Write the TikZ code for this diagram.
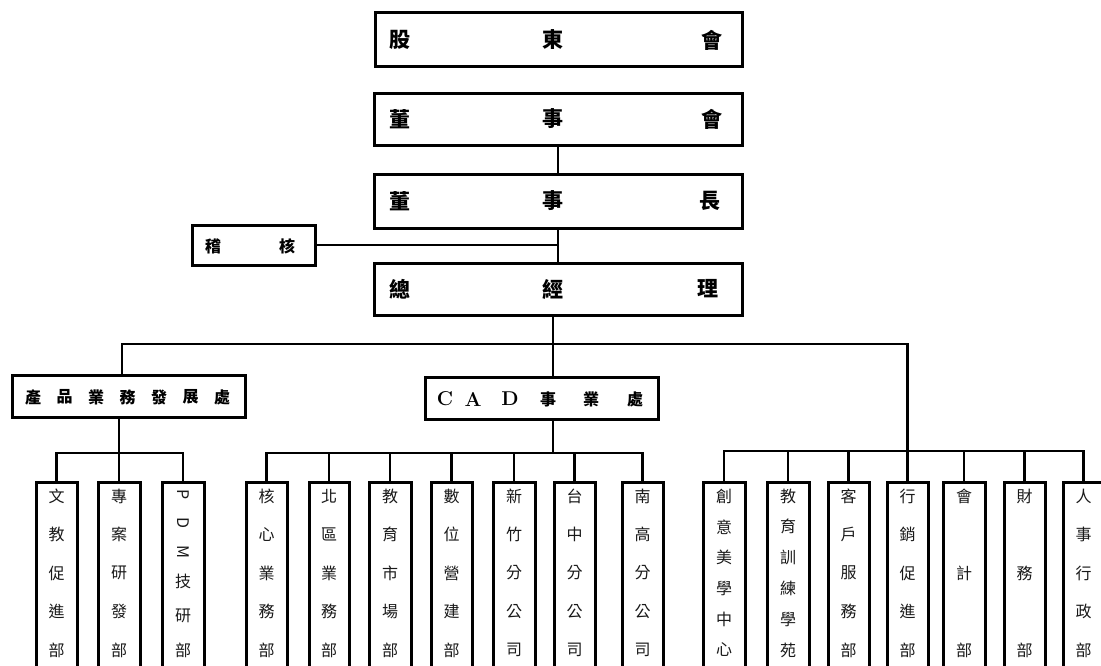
\documentclass[tikz,border=0pt]{standalone}
\usepackage{fontspec}
\newfontfamily\cjk{Noto Sans CJK TC}
\tikzset{
  box/.style={draw=black, line width=3pt, inner sep=0pt, outer sep=0pt},
  conn/.style={draw=black, line width=2.2pt},
  toptxt/.style={font=\cjk\bfseries\fontsize{21}{21}\selectfont, inner sep=0pt},
  midtxt/.style={font=\cjk\bfseries\fontsize{16}{16}\selectfont, inner sep=0pt},
  cadtxt/.style={font=\rmfamily\bfseries\fontsize{20}{20}\selectfont, inner sep=0pt},
  vtxt/.style={font=\cjk\fontsize{16}{16}\selectfont, inner sep=0pt, text=black!90},
}
\newcommand\BX[5]{\node[box, minimum width={(#4-#2)*1pt}, minimum height={(#5-#3)*1pt}] (#1) at ({(#2+#4)/2},{(#3+#5)/2}) {};}
\newcommand\VT[3]{%
  \foreach \c [count=\i, evaluate=\i as \yy using 496+(\i-1)*154/(#2-1)] in {#3}
    {\node[vtxt] (#1-\i) at (#1.center |- 0,\yy) {\c};}}
\begin{document}
\begin{tikzpicture}[x=1pt,y=-1pt]
\useasboundingbox (0,0) rectangle (1101,665);
\fill[white] (0,0) rectangle (1101,665);
\clip (0,0) rectangle (1101,665);

% top boxes
\BX{gd}{375}{12}{742}{66}
\node[toptxt] (gd1) at (400,40) {股};
\node[toptxt] (gd2) at (553,40) {東};
\node[toptxt] (gd3) at (712,40) {會};

\BX{ds}{374}{93}{742}{145}
\node[toptxt] (ds1) at (400,119) {董};
\node[toptxt] (ds2) at (553,119) {事};
\node[toptxt] (ds3) at (712,119) {會};

\BX{dz}{374}{174}{742}{228}
\node[toptxt] (dz1) at (400,201) {董};
\node[toptxt] (dz2) at (553,201) {事};
\node[toptxt] (dz3) at (710,201) {長};

\BX{zj}{374}{263}{742}{315}
\node[toptxt] (zj1) at (400,289) {總};
\node[toptxt] (zj2) at (553,289) {經};
\node[toptxt] (zj3) at (708,289) {理};

\BX{jh}{192}{225}{315}{265}
\node[midtxt] (jh1) at (213,246) {稽};
\node[midtxt] (jh2) at (287,246) {核};

\draw[conn] (ds.south -| 558,0) -- (dz.north -| 558,0);
\draw[conn] (dz.south -| 558,0) -- (zj.north -| 558,0);
\draw[conn] (jh.east) -- (jh.east -| 558,0);

% middle boxes
\BX{cp}{12}{375}{245}{417}
\foreach \c [count=\i, evaluate=\i as \xx using 33+(\i-1)*31.5] in {產,品,業,務,發,展,處}
  {\node[midtxt] (cp-\i) at (\xx,397) {\c};}

\BX{cad}{425}{377}{658}{419}
\node[cadtxt] (cad1) at (445,399) {C};
\node[cadtxt] (cad2) at (473,399) {A};
\node[cadtxt] (cad3) at (510,399) {D};
\node[midtxt] (cad4) at (548,399) {事};
\node[midtxt] (cad5) at (591,399) {業};
\node[midtxt] (cad6) at (635,399) {處};

% bottom boxes
\BX{wj}{36}{482}{77}{700}
\BX{za}{98}{482}{140}{700}
\BX{pdm}{162}{482}{204}{700}
\BX{hx}{246}{482}{287}{700}
\BX{bq}{309}{482}{349}{700}
\BX{jy}{369}{482}{411}{700}
\BX{sw}{431}{482}{472}{700}
\BX{xz}{493}{482}{535}{700}
\BX{tz}{554}{482}{595}{700}
\BX{ng}{622}{482}{663}{700}
\BX{cy}{703}{482}{745}{700}
\BX{jx}{767}{482}{809}{700}
\BX{kh}{828}{482}{869}{700}
\BX{xx}{887}{482}{928}{700}
\BX{kj}{943}{482}{985}{700}
\BX{cw}{1004}{482}{1045}{700}
\BX{rs}{1063}{482}{1104}{700}

\VT{wj}{5}{文,教,促,進,部}
\VT{za}{5}{專,案,研,發,部}
\node[vtxt, rotate=-90] (pdm-1) at (pdm.center |- 0,495) {P};
\node[vtxt, rotate=-90] (pdm-2) at (pdm.center |- 0,523) {D};
\node[vtxt, rotate=-90] (pdm-3) at (pdm.center |- 0,552) {M};
\node[vtxt] (pdm-4) at (pdm.center |- 0,581) {技};
\node[vtxt] (pdm-5) at (pdm.center |- 0,616) {研};
\node[vtxt] (pdm-6) at (pdm.center |- 0,650) {部};
\VT{hx}{5}{核,心,業,務,部}
\VT{bq}{5}{北,區,業,務,部}
\VT{jy}{5}{教,育,市,場,部}
\VT{sw}{5}{數,位,營,建,部}
\VT{xz}{5}{新,竹,分,公,司}
\VT{tz}{5}{台,中,分,公,司}
\VT{ng}{5}{南,高,分,公,司}
\VT{cy}{6}{創,意,美,學,中,心}
\VT{jx}{6}{教,育,訓,練,學,苑}
\VT{kh}{5}{客,戶,服,務,部}
\VT{xx}{5}{行,銷,促,進,部}
\VT{kj}{3}{會,計,部}
\VT{cw}{3}{財,務,部}
\VT{rs}{5}{人,事,行,政,部}

% main branch
\coordinate (cadj) at (553,453);
\draw[conn] (zj.south -| 553,0) -- (cad.north -| 553,0);
\draw[conn] (cp.north -| 122,0) |- (xx.north |- 0,344) -- (xx.north);

% left group
\draw[conn] (cp.south -| za.north) -- (za.north);
\draw[conn] (wj.north) |- (pdm.north |- 0,453) -- (pdm.north);

% CAD group
\draw[conn] (cad.south -| cadj) -- (cadj);
\draw[conn] (hx.north) |- (ng.north |- 0,453) -- (ng.north);
\foreach \n in {bq,jy,sw,xz,tz}
  {\draw[conn] (\n.north) -- (\n.north |- 0,453);}

% right group
\draw[conn] (cy.north) |- (rs.north |- 0,451) -- (rs.north);
\foreach \n in {jx,kh,kj,cw}
  {\draw[conn] (\n.north) -- (\n.north |- 0,451);}
\end{tikzpicture}
\end{document}
